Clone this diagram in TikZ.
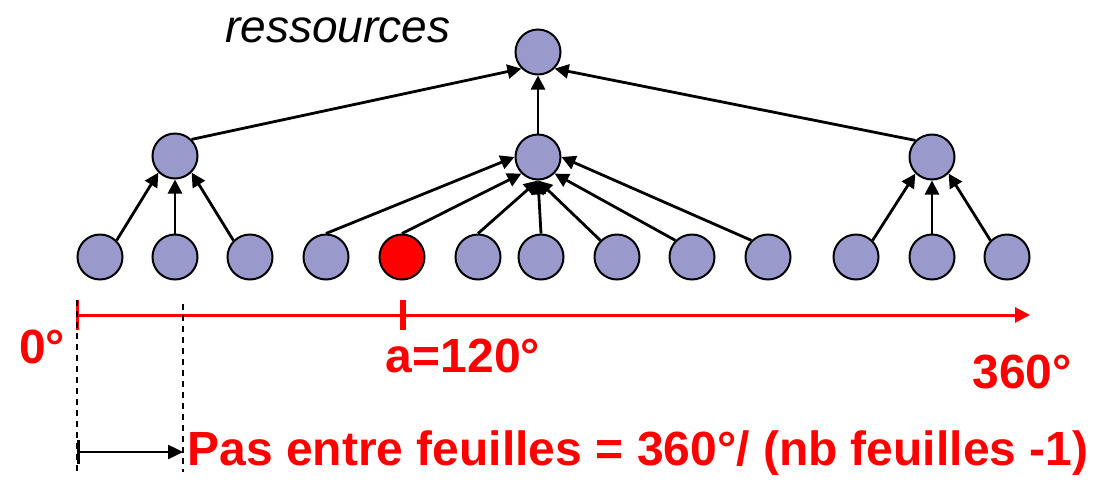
\documentclass[tikz,border=0pt]{standalone}
\usepackage{fontspec}
\setmainfont{Liberation Sans}
\usetikzlibrary{arrows.meta}
\definecolor{nodefill}{HTML}{9999CC}
\begin{document}
\begin{tikzpicture}[x=1pt,y=-1pt,
  res/.style={circle,draw=black,line width=2pt,fill=nodefill,minimum size=45pt,inner sep=0pt},
  sel/.style={res,fill=red},
  edge/.style={line width=2.8pt,-{Triangle[length=14pt,width=14pt]}},
  redlbl/.style={text=red,font=\fontsize{48}{54}\selectfont\bfseries,inner sep=0pt,anchor=base},
  dashline/.style={black,line width=1.5pt,dash pattern=on 6pt off 5pt}]
\useasboundingbox (0,0) rectangle (1096,483);
% nodes
\node[res] (R) at (538,52) {};
\node[res] (ML) at (175,156) {};
\node[res] (MC) at (538,157) {};
\node[res] (MR) at (932,157) {};
\node[res] (L1) at (100,257) {};
\node[res] (L2) at (175,257) {};
\node[res] (L3) at (250,257) {};
\node[res] (L4) at (326,257) {};
\node[sel] (L5) at (402,257) {};
\node[res] (L6) at (478,257) {};
\node[res] (L7) at (541,257) {};
\node[res] (L8) at (617,257) {};
\node[res] (L9) at (692,257) {};
\node[res] (L10) at (768,257) {};
\node[res] (L11) at (856,257) {};
\node[res] (L12) at (932,257) {};
\node[res] (L13) at (1007,257) {};
% edges
\draw[edge] (ML.north east) -- (R.south west);
\draw[edge] (MC.north) -- (R.south);
\draw[edge] (MR.north west) -- (R.south east);
\draw[edge] (L1.north east) -- (ML.south west);
\draw[edge] (L2.north) -- (ML.south);
\draw[edge] (L3.north west) -- (ML.south east);
\draw[edge] (L4.north) -- (MC.west);
\draw[edge] (L5.north) -- (MC.south west);
\draw[edge] (L6.north) -- (MC.south);
\draw[edge] (L7.north) -- (MC.south);
\draw[edge] (L8.north west) -- (MC.south);
\draw[edge] (L9.north west) -- (MC.south east);
\draw[edge] (L10.north west) -- (MC.east);
\draw[edge] (L11.north east) -- (MR.south west);
\draw[edge] (L12.north) -- (MR.south);
\draw[edge] (L13.north west) -- (MR.south east);
% labels
\node[font=\fontsize{46}{52}\selectfont\itshape,inner sep=0pt,anchor=base] (lres) at (338,42) {ressources};
% axis
\coordinate (A0) at (77,315);
\coordinate (A1) at (1030,315);
\coordinate (T0a) at (77,300);
\coordinate (T0b) at (77,330);
\coordinate (Ta) at (403,300);
\coordinate (Tb) at (403,330);
\draw[red,line width=3pt,-{Triangle[length=15pt,width=15pt]}] (A0) -- (A1);
\draw[red,line width=3pt] (T0a) -- (T0b);
\draw[red,line width=5.5pt] (Ta) -- (Tb);
\coordinate (D0a) at (77,300);
\coordinate (D0b) at (77,472);
\coordinate (D1a) at (183,304);
\coordinate (D1b) at (183,472);
\draw[dashline] (D0a) -- (D0b);
\draw[dashline] (D1a) -- (D1b);
\coordinate (S0) at (77,452);
\coordinate (S1) at (183,452);
\draw[black,line width=2.5pt,{Bar[width=24pt]}-{Triangle[length=15pt,width=14pt]}] (S0) -- (S1);
\node[redlbl] (l0) at (42,363) {0°};
\node[redlbl] (la) at (463,372) {a=120°};
\node[redlbl] (l360) at (1022,388) {360°};
\node[redlbl] (lpas) at (638,465) {Pas entre feuilles = 360°/ (nb feuilles -1)};
\end{tikzpicture}
\end{document}
